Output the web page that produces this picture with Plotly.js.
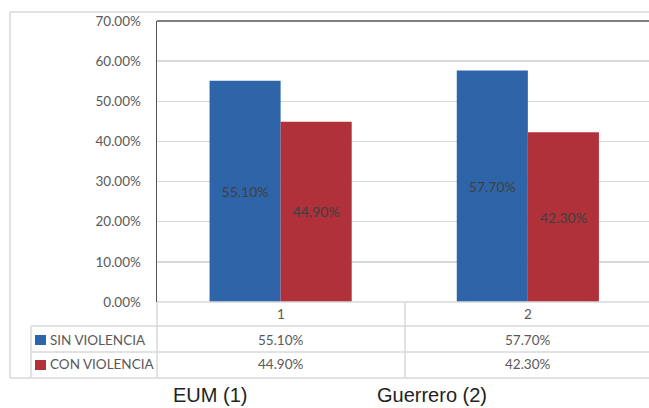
<!DOCTYPE html>
<html><head><meta charset="utf-8">
<script src="https://cdn.plot.ly/plotly-3.0.1.min.js"></script>
<style>html,body{margin:0;padding:0;background:#fff;}#chart{width:649px;height:408px;}</style>
</head><body><div id="chart"></div>
<script>
// ---- data ----
const categories = ['1', '2'];
const categoryNames = ['EUM (1)', 'Guerrero (2)'];
const seriesNames = ['SIN VIOLENCIA', 'CON VIOLENCIA'];
const sinViolencia = [0.551, 0.577];
const conViolencia = [0.449, 0.423];
const yTickVals = [0, 0.1, 0.2, 0.3, 0.4, 0.5, 0.6, 0.7];

// ---- style ----
const BLUE = '#2E65A9', RED = '#B0313A';
const GRID = '#D9D9D9', TXT = '#595959', LBL = '#404040';
const FONT = 'Lato, "Noto Sans", sans-serif';
const W = 649, H = 408, L = 157, T = 21, B = 302;
const px = x => (x - L) / (W - L);
const py = y => (B - y) / (B - T);
const xnum = categories.map((c, i) => i + 1);

const traces = [
  {type: 'bar', name: seriesNames[0], x: xnum, y: sinViolencia, marker: {color: BLUE},
   texttemplate: '%{y:.2%}', textposition: 'inside', insidetextanchor: 'middle', textangle: 0,
   textfont: {family: FONT, size: 14, color: LBL}, hoverinfo: 'none'},
  {type: 'bar', name: seriesNames[1], x: xnum, y: conViolencia, marker: {color: RED},
   texttemplate: '%{y:.2%}', textposition: 'inside', insidetextanchor: 'middle', textangle: 0,
   textfont: {family: FONT, size: 14, color: LBL}, hoverinfo: 'none'}
];

function hline(y, x0, x1, color, w) {
  return {type: 'line', xref: 'paper', yref: 'paper', x0: px(x0), x1: px(x1), y0: py(y), y1: py(y),
          line: {color: color || GRID, width: w || 1.5}};
}
function vline(x, y0, y1, color, w) {
  return {type: 'line', xref: 'paper', yref: 'paper', x0: px(x), x1: px(x), y0: py(y0), y1: py(y1),
          line: {color: color || GRID, width: w || 1.5}};
}
const shapes = [
  // outer border
  hline(12, 10, 660), vline(10, 12, 378), hline(378, 10, 660),
  // table
  hline(302, 157, 660), hline(326, 31, 660), hline(352, 31, 660),
  vline(31, 326, 378), vline(157, 302, 378), vline(405, 302, 378),
  // top plot border
  hline(21, 157, 660, '#555', 1.5),
  // legend keys
  {type: 'rect', xref: 'paper', yref: 'paper', x0: px(35), x1: px(46), y0: py(345), y1: py(335), fillcolor: BLUE, line: {width: 0}},
  {type: 'rect', xref: 'paper', yref: 'paper', x0: px(35), x1: px(46), y0: py(370), y1: py(360), fillcolor: RED, line: {width: 0}}
];

const fmt = v => (v * 100).toFixed(2) + '%';
const ann = [];
const rowY = [340, 364];
const colX = [281, 528];
categories.forEach((c, i) => {
  ann.push({xref: 'paper', yref: 'paper', x: px(colX[i]), y: py(314), text: c, showarrow: false,
            font: {family: FONT, size: 13.5, color: TXT}, xanchor: 'center', yanchor: 'middle'});
  ann.push({xref: 'paper', yref: 'paper', x: px(colX[i]), y: py(rowY[0]), text: fmt(sinViolencia[i]), showarrow: false,
            font: {family: FONT, size: 13.5, color: TXT}, xanchor: 'center', yanchor: 'middle'});
  ann.push({xref: 'paper', yref: 'paper', x: px(colX[i]), y: py(rowY[1]), text: fmt(conViolencia[i]), showarrow: false,
            font: {family: FONT, size: 13.5, color: TXT}, xanchor: 'center', yanchor: 'middle'});
});
seriesNames.forEach((s, i) => {
  ann.push({xref: 'paper', yref: 'paper', x: px(48), y: py(rowY[i]), text: s, showarrow: false,
            font: {family: FONT, size: 13.5, color: TXT}, xanchor: 'left', yanchor: 'middle'});
});
const nameX = [210, 432];
categoryNames.forEach((n, i) => {
  ann.push({xref: 'paper', yref: 'paper', x: px(nameX[i]), y: py(395), text: n, showarrow: false,
            font: {family: '"Liberation Sans", Arial, sans-serif', size: 20, color: '#231F20'},
            xanchor: 'center', yanchor: 'middle'});
});

const layout = {
  width: W, height: H,
  margin: {l: L, r: 0, t: T, b: H - B, pad: 0},
  paper_bgcolor: '#fff', plot_bgcolor: '#fff',
  showlegend: false,
  barmode: 'group', bargap: 0.425, bargroupgap: 0,
  xaxis: {type: 'linear', range: [0.5, 2.49], showticklabels: false, showgrid: false, zeroline: false,
          showline: false, ticks: '', fixedrange: true},
  yaxis: {range: [0, 0.7], tickvals: yTickVals, tickformat: '.2%', showgrid: true, gridcolor: GRID, gridwidth: 1.5,
          zeroline: false, showline: true, linecolor: '#555', linewidth: 1.5, ticks: '',
          ticklabelstandoff: 12, tickfont: {family: FONT, size: 13.5, color: TXT}, fixedrange: true},
  shapes: shapes,
  annotations: ann
};

Plotly.newPlot('chart', traces, layout, {staticPlot: true, displayModeBar: false});
</script>
</body></html>
